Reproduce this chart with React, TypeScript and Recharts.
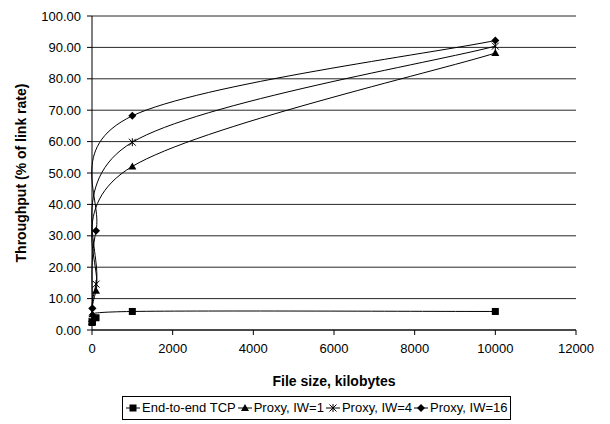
import React from 'react';
import { LineChart, Line, XAxis, YAxis, CartesianGrid, Legend, Label } from 'recharts';

const fileSizes = [1, 10, 100, 1000, 10000];
const endToEndTcp = [2.4, 2.6, 3.9, 5.9, 5.9];
const proxyIw1 = [2.6, 5.0, 12.5, 52.1, 88.2];
const proxyIw4 = [2.7, 5.8, 14.6, 59.8, 90.4];
const proxyIw16 = [2.8, 6.9, 31.6, 68.2, 92.2];
const xTicks = [0, 2000, 4000, 6000, 8000, 10000, 12000];
const yTicks = [0, 10, 20, 30, 40, 50, 60, 70, 80, 90, 100];

const data = fileSizes.map((size, i) => ({
  size,
  tcp: endToEndTcp[i],
  iw1: proxyIw1[i],
  iw4: proxyIw4[i],
  iw16: proxyIw16[i],
}));

const FONT = '"Liberation Sans", Arial, sans-serif';

// Excel-style smoothed line (Catmull-Rom through the points)
const smoothCurve = (context: any) => {
  let pts: number[][] = [];
  return {
    areaStart() {},
    areaEnd() {},
    lineStart() {
      pts = [];
    },
    point(x: number, y: number) {
      pts.push([+x, +y]);
    },
    lineEnd() {
      if (!pts.length) return;
      context.moveTo(pts[0][0], pts[0][1]);
      for (let i = 0; i < pts.length - 1; i++) {
        const p0 = pts[i - 1] || pts[i];
        const p1 = pts[i];
        const p2 = pts[i + 1];
        const p3 = pts[i + 2] || pts[i + 1];
        context.bezierCurveTo(
          p1[0] + (p2[0] - p0[0]) / 6,
          p1[1] + (p2[1] - p0[1]) / 6,
          p2[0] - (p3[0] - p1[0]) / 6,
          p2[1] - (p3[1] - p1[1]) / 6,
          p2[0],
          p2[1]
        );
      }
    },
  };
};

type Shape = 'square' | 'triangle' | 'star' | 'diamond';

const Marker = ({ shape, cx, cy }: { shape: Shape; cx: number; cy: number }) => {
  if (cx == null || cy == null) return null;
  if (shape === 'square') return <rect x={cx - 3.5} y={cy - 3.5} width={7} height={7} fill="#000" />;
  if (shape === 'triangle')
    return <polygon points={`${cx},${cy - 4} ${cx + 4},${cy + 3} ${cx - 4},${cy + 3}`} fill="#000" />;
  if (shape === 'diamond')
    return <polygon points={`${cx},${cy - 4} ${cx + 4},${cy} ${cx},${cy + 4} ${cx - 4},${cy}`} fill="#000" />;
  return (
    <g stroke="#000" strokeWidth={1}>
      <line x1={cx - 3.5} y1={cy - 3.5} x2={cx + 3.5} y2={cy + 3.5} />
      <line x1={cx - 3.5} y1={cy + 3.5} x2={cx + 3.5} y2={cy - 3.5} />
      <line x1={cx} y1={cy - 4} x2={cx} y2={cy + 4} />
    </g>
  );
};

const dotFor = (shape: Shape) => (props: any) => (
  <Marker key={`${shape}-${props.index}`} shape={shape} cx={props.cx} cy={props.cy} />
);

const legendItems: { label: string; shape: Shape }[] = [
  { label: 'End-to-end TCP', shape: 'square' },
  { label: 'Proxy, IW=1', shape: 'triangle' },
  { label: 'Proxy, IW=4', shape: 'star' },
  { label: 'Proxy, IW=16', shape: 'diamond' },
];

const LegendBox = () => (
  <div
    style={{
      border: '1px solid #000',
      display: 'inline-flex',
      alignItems: 'center',
      padding: '3px 2px',
      fontFamily: FONT,
      fontSize: 13,
      lineHeight: '16px',
      color: '#000',
      gap: 1,
    }}
  >
    {legendItems.map(item => (
      <span key={item.label} style={{ display: 'flex', alignItems: 'center' }}>
        <svg width={16} height={12} style={{ marginRight: 1 }}>
          <line x1={1} y1={6} x2={15} y2={6} stroke="#000" />
          <Marker shape={item.shape} cx={8} cy={6} />
        </svg>
        {item.label}
      </span>
    ))}
  </div>
);

export default function App() {
  return (
    <div style={{ position: 'absolute', left: 0, top: 0, width: 610, height: 424, background: '#fff' }}>
      <LineChart width={610} height={424} data={data} margin={{ top: 16, right: 34, bottom: 4, left: 0 }}>
        <CartesianGrid horizontal vertical={false} stroke="#000" strokeOpacity={0.85} />
        <XAxis
          type="number"
          dataKey="size"
          domain={[0, 12000]}
          ticks={xTicks}
          stroke="#000"
          tick={{ fill: '#000', fontSize: 13, fontFamily: FONT }}
          tickSize={5}
          tickMargin={9}
          height={66}
          interval={0}
        >
          <Label
            value="File size, kilobytes"
            position="insideBottom"
            offset={10}
            style={{ fill: '#000', fontSize: 14, fontWeight: 'bold', fontFamily: FONT }}
          />
        </XAxis>
        <YAxis
          type="number"
          domain={[0, 100]}
          ticks={yTicks}
          stroke="#000"
          tick={{ fill: '#000', fontSize: 13, fontFamily: FONT }}
          tickFormatter={(v: number) => v.toFixed(2)}
          tickSize={5}
          tickMargin={6}
          width={92}
          interval={0}
        >
          <Label
            value="Throughput (% of link rate)"
            angle={-90}
            position="insideLeft"
            offset={21}
            style={{ fill: '#000', fontSize: 14, fontWeight: 'bold', fontFamily: FONT, textAnchor: 'middle' }}
          />
        </YAxis>
        <Legend
          verticalAlign="bottom"
          wrapperStyle={{ left: 122, width: 'auto' }}
          content={() => <LegendBox />}
        />
        <Line type={smoothCurve as any} dataKey="tcp" stroke="#000" strokeWidth={1} dot={dotFor('square')} activeDot={false} isAnimationActive={false} />
        <Line type={smoothCurve as any} dataKey="iw1" stroke="#000" strokeWidth={1} dot={dotFor('triangle')} activeDot={false} isAnimationActive={false} />
        <Line type={smoothCurve as any} dataKey="iw4" stroke="#000" strokeWidth={1} dot={dotFor('star')} activeDot={false} isAnimationActive={false} />
        <Line type={smoothCurve as any} dataKey="iw16" stroke="#000" strokeWidth={1} dot={dotFor('diamond')} activeDot={false} isAnimationActive={false} />
      </LineChart>
    </div>
  );
}
